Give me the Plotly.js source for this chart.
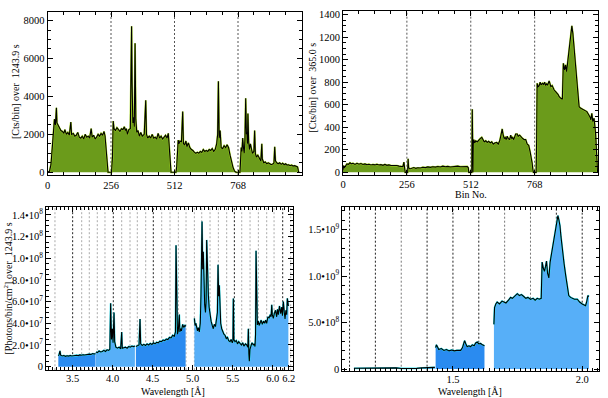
<!DOCTYPE html>
<html><head><meta charset="utf-8">
<script src="https://cdn.plot.ly/plotly-3.0.1.min.js"></script>
<style>html,body{margin:0;padding:0;background:#fff}#plot{width:608px;height:398px}</style>
</head><body><div id="plot"></div>
<script>
// ---------- Panel 1: counts per bin, 1243.9 s ----------
const p1Bins = [0,8,14,20,24,28,32,36,38,42,48,54,60,66,70,76,82,88,94,97,104,110,116,122,128,134,140,146,152,158,164,170,176,180,186,192,198,204,210,216,222,228,232,236,240,244,
258,262,265,268,274,280,286,292,298,304,310,314,318,322,328,334,337,339,341,344,347,350,353,356,360,365,370,376,382,390,396,399,404,410,416,422,428,434,440,446,452,458,464,470,476,482,487,490,494,498,
512,518,521,524,527,530,534,540,545,548,553,558,562,568,574,580,586,592,598,604,610,616,622,628,634,640,646,652,658,664,670,676,682,686,689,692,696,700,706,712,718,724,730,736,742,748,754,760,
776,779,781,784,787,790,793,796,799,802,804,806,808,811,814,818,822,826,832,835,838,842,848,854,860,864,866,872,878,884,890,896,902,910,913,916,919,924,930,936,942,948,954,960,966,972,978,984,990,996,1002,1008,1011,1013];
const p1Counts = [0,50,400,1500,2600,2800,2500,3400,2600,2500,2350,2200,2150,2050,2250,2000,2100,1950,2650,2000,2050,1900,1950,2100,1850,1800,1900,1750,2000,1850,1900,1800,2300,1850,1950,1750,1850,2000,1900,2050,1950,2150,1900,1200,300,0,
0,800,2700,2300,2200,2350,2250,2150,2300,2250,2400,2200,2300,2000,2250,2300,5600,7700,4700,2600,2900,2400,6800,2800,2100,2200,1900,2100,1900,2000,3800,2000,1800,1900,1800,2000,1800,1850,1750,2050,1800,1900,1750,1850,1950,1800,2050,1500,400,0,
0,0,300,1500,1700,1500,1650,1600,3200,1500,1450,1650,1350,1550,1300,1200,1150,1050,1000,1050,1000,1100,1050,1200,1100,1150,1100,1200,1150,1250,1100,1200,1500,2000,4800,1800,2200,1300,1250,1400,1300,1450,1300,900,550,250,60,0,
0,600,1300,1100,1800,1300,1000,1700,3900,2000,2100,1500,3100,1600,1200,1500,1100,1000,1100,2200,1000,800,900,700,600,1500,700,500,550,450,500,450,400,450,500,1350,600,500,450,500,420,480,400,450,380,400,350,380,330,350,300,280,100,0];

// ---------- Panel 2: counts per bin, 365.0 s ----------
const p2Bins = [0,2,5,10,16,22,28,34,40,48,56,64,72,80,88,96,104,112,120,128,136,144,152,160,168,176,184,192,200,208,216,224,232,240,244,246,249,
256,259,261,263,268,276,284,292,300,310,320,330,340,350,360,370,380,390,400,410,420,430,440,450,460,470,480,490,498,502,504,
510,516,518,519,521,522,524,528,532,538,544,550,556,560,566,572,578,584,590,596,602,608,616,622,628,632,635,638,641,646,650,654,658,662,668,672,676,680,684,688,692,698,702,708,714,720,726,732,738,744,750,754,758,761,763,
770,774,776,778,782,786,790,794,799,804,808,812,816,820,826,830,833,838,842,846,850,855,859,862,866,870,874,879,883,888,892,896,902,908,913,917,921,926,933,939,946,953,960,966,972,977,982,986,990,993,997,1001,1006,1012,1016,1020];
const p2Counts = [20,60,40,60,75,70,85,75,80,70,80,72,78,70,75,68,72,65,70,66,72,65,68,62,70,62,66,60,62,58,60,55,52,50,90,45,0,
0,0,120,40,30,38,42,35,40,38,45,42,48,44,50,46,52,48,55,50,53,48,52,50,55,50,52,48,52,40,0,
0,0,560,0,0,250,290,260,280,270,290,300,310,290,270,280,265,275,260,270,250,260,265,250,280,320,360,385,340,300,310,290,320,300,290,330,300,310,290,330,340,340,320,330,310,300,290,290,250,240,180,140,80,20,0,
0,0,300,790,760,767,800,775,790,780,800,770,785,775,811,790,760,770,745,731,720,710,701,690,672,660,655,648,968,909,953,894,1027,1145,1220,1300,1234,1086,879,701,583,568,560,553,545,539,520,509,490,465,524,450,480,346,198,0];
const binBoundaries = [256,512,768];

// ---------- Panel 3: photons/bin/cm^2 (units of 1e7), 1243.9 s ----------
const p3ALam = [3.321,3.33,3.342,3.35,3.37,3.39,3.41,3.43,3.45,3.47,3.49,3.51,3.53,3.55,3.57,3.59,3.61,3.63,3.65,3.67,3.69,3.71,3.73,3.75,3.77,3.786];
const p3AVal = [1.0,1.1,1.45,1.05,0.98,1.02,0.95,1.0,0.97,1.03,0.98,1.02,1.0,1.05,1.02,1.08,1.05,1.1,1.07,1.12,1.1,1.15,1.12,1.2,1.17,1.2];
const p3BLam = [3.79,3.81,3.83,3.85,3.87,3.89,3.91,3.93,3.95,3.965,3.975,3.985,3.996,4.005,4.017,4.025,4.04,4.06,4.08,4.1,4.113,4.12,4.14,4.16,4.18,4.2,4.22,4.24,4.26,4.278];
const p3BVal = [1.35,1.3,1.45,1.35,1.4,1.5,1.4,1.55,1.5,1.6,5.85,2.5,3.5,2.2,5.0,2.3,1.8,1.7,1.8,1.65,3.2,1.7,1.75,1.8,1.7,1.85,1.8,1.9,1.85,1.9];
const p3CLam = [4.29,4.31,4.33,4.342,4.35,4.37,4.39,4.41,4.43,4.45,4.47,4.49,4.51,4.53,4.55,4.57,4.59,4.61,4.63,4.65,4.67,4.69,4.71,4.73,4.75,4.77,4.785,4.792,4.80,4.81,4.82,4.833,4.84,4.85,4.86,4.875,4.89,4.905,4.912];
const p3CVal = [1.85,1.9,2.0,4.4,2.1,1.95,2.05,1.95,2.1,2.0,2.15,2.05,2.2,2.1,2.25,2.2,2.35,2.3,2.45,2.4,2.55,2.5,2.7,2.65,2.9,2.8,3.2,11.2,4.0,3.0,3.3,4.8,3.2,3.5,3.3,3.9,3.6,3.85,3.7];
const p3DLam = [5.021,5.03,5.04,5.05,5.06,5.07,5.083,5.095,5.104,5.117,5.125,5.133,5.142,5.15,5.16,5.168,5.175,5.185,5.196,5.205,5.217,5.23,5.245,5.258,5.27,5.285,5.3,5.309,5.317,5.325,5.333,5.34,5.35,5.363,5.375,5.39,5.404,5.42,5.435,5.45,5.467,5.48,5.495,5.503,5.508,5.515,5.529,5.545,5.56,5.575,5.592,5.61,5.625,5.64,5.66,5.675,5.69,5.696,5.702,5.708,5.716,5.725,5.74,5.758,5.77,5.779,5.786,5.792,5.8,5.808,5.82,5.83,5.842,5.855,5.87,5.885,5.9,5.912,5.925,5.94,5.955,5.97,5.98,5.988,5.995,6.008,6.02,6.035,6.05,6.06,6.071,6.085,6.1,6.113,6.122,6.133,6.145,6.154,6.165,6.175,6.183,6.196];
const p3DVal = [4.45,3.8,4.0,3.5,3.3,3.6,3.2,4.0,6.6,13.4,9.0,10.6,7.0,5.7,5.0,6.0,11.7,8.0,6.6,5.5,4.8,4.2,3.8,3.5,3.9,3.7,4.5,5.0,9.4,6.5,7.5,5.0,4.0,3.5,3.2,3.0,2.9,2.6,2.7,2.4,2.3,2.5,2.2,2.4,6.3,2.5,2.3,2.4,2.1,2.3,2.15,2.0,2.2,1.9,2.1,2.0,1.8,3.5,1.2,0.5,1.6,1.85,2.2,2.0,2.1,1.85,3.0,10.7,5.0,3.85,4.2,3.8,4.0,4.3,3.9,4.2,4.0,4.3,4.0,4.6,4.5,4.8,4.6,5.7,4.8,4.45,4.9,5.2,4.6,5.3,4.8,5.6,4.9,5.5,4.7,6.0,5.0,4.4,5.2,4.8,6.3,5.6];
const p3TickVals = [0,2,4,6,8,10,12,14];
const p3TickText = ["0","2.0•10<sup>7</sup>","4.0•10<sup>7</sup>","6.0•10<sup>7</sup>","8.0•10<sup>7</sup>","1.0•10<sup>8</sup>","1.2•10<sup>8</sup>","1.4•10<sup>8</sup>"];
const p3LinesLight = [3.279,3.613,3.708,3.808,3.904,4.113,4.217,4.308,4.413,4.613,4.717,4.821,4.917,5.021,5.113,5.217,5.321,5.425,5.613,5.717,5.821,5.925,6.017,6.225];
const p3LinesDark = [3.5,4.008,4.508,5.521,6.125];

// ---------- Panel 4: photons (units of 1e8) ----------
const p4ALam = [1.117,1.15,1.18,1.2,1.22,1.25,1.28,1.3,1.33,1.36,1.38,1.4,1.43];
const p4AVal = [0.08,0.1,0.11,0.12,0.15,0.13,0.12,0.06,0.05,0.07,0.12,0.15,0.18];
const p4BLam = [1.433,1.436,1.44,1.445,1.455,1.465,1.475,1.485,1.495,1.505,1.515,1.525,1.53,1.537,1.545,1.55,1.555,1.562,1.568,1.575,1.582,1.588,1.594,1.6,1.607,1.614,1.622];
const p4BVal = [2.3,2.6,2.4,2.1,2.2,2.0,2.1,1.95,2.05,1.95,2.0,1.95,2.0,2.3,3.05,2.7,2.4,2.5,2.4,2.6,2.5,2.8,2.9,2.7,2.75,2.6,2.5];
const p4CLam = [1.6585,1.661,1.666,1.671,1.68,1.69,1.697,1.705,1.715,1.723,1.73,1.74,1.749,1.757,1.765,1.774,1.782,1.79,1.8,1.81,1.818,1.826,1.834,1.8415,1.845,1.85,1.854,1.858,1.862,1.866,1.871,1.876,1.884,1.89,1.897,1.902,1.906,1.91,1.914,1.918,1.923,1.93,1.936,1.942,1.948,1.955,1.961,1.97,1.981,1.99,2.0,2.007,2.013,2.018,2.022,2.026];
const p4CVal = [4.8,6.6,7.0,7.2,7.0,7.3,7.2,7.1,7.4,7.7,7.6,7.9,8.1,7.9,8.0,7.8,7.6,7.7,7.5,7.6,7.4,7.6,7.5,7.6,11.5,10.8,10.5,11.0,11.6,10.3,9.8,11.5,12.9,14.0,15.0,15.8,16.5,16.0,15.4,14.2,12.8,11.3,10.1,9.0,7.9,7.7,7.6,7.5,7.5,7.2,7.0,6.9,6.8,7.3,7.9,7.8];
const p4TickVals = [0,5,10,15];
const p4TickText = ["0","5.0•10<sup>8</sup>","1.0•10<sup>9</sup>","1.5•10<sup>9</sup>"];
const p4LinesDark = [1.1,1.2,1.4,1.5,1.6,1.9,2.0];
const p4LinesLight = [1.3,1.7,1.8];

// ---------- colours ----------
const GREEN = '#6b9b1b', GREEN_EDGE = '#a6d81e';
const BLUE_D = '#2a8bf0', BLUE_L = '#57aff8', CYAN = '#2fe3f2';

const W = 608, H = 398;
const dx = (a,b) => [a/W, b/W];
const dy = (t,b) => [1-b/H, 1-t/H];

function filled(x, y, xa, ya, fill, edge){
  return [
    {x:x, y:y, xaxis:xa, yaxis:ya, type:'scatter', mode:'lines', fill:'tozeroy', fillcolor:fill,
     line:{color:edge, width:1.8}, hoverinfo:'skip', showlegend:false},
    {x:x, y:y, xaxis:xa, yaxis:ya, type:'scatter', mode:'lines',
     line:{color:'#000', width:1.1}, hoverinfo:'skip', showlegend:false}
  ];
}

const traces = [].concat(
  filled(p1Bins, p1Counts, 'x', 'y', GREEN, GREEN_EDGE),
  filled(p2Bins, p2Counts, 'x2', 'y2', GREEN, GREEN_EDGE),
  filled(p3ALam, p3AVal, 'x3', 'y3', BLUE_D, CYAN),
  filled(p3BLam, p3BVal, 'x3', 'y3', BLUE_L, CYAN),
  filled(p3CLam, p3CVal, 'x3', 'y3', BLUE_D, CYAN),
  filled(p3DLam, p3DVal, 'x3', 'y3', BLUE_L, CYAN),
  filled(p4ALam, p4AVal, 'x4', 'y4', BLUE_L, CYAN),
  filled(p4BLam, p4BVal, 'x4', 'y4', BLUE_D, CYAN),
  filled(p4CLam, p4CVal, 'x4', 'y4', BLUE_L, CYAN)
);

const FONT = {family:'Liberation Serif, Times New Roman, serif', size:10.5, color:'#000'};
const TFONT = {family:'Liberation Serif, Times New Roman, serif', size:10, color:'#000'};
function ax(extra){
  return Object.assign({
    showline:true, linecolor:'#000', linewidth:1, mirror:'allticks',
    ticks:'inside', ticklen:5, tickcolor:'#000', tickwidth:1,
    showgrid:false, zeroline:false, tickfont:FONT, fixedrange:true
  }, extra);
}
function minor(d, t0){ return {ticks:'inside', ticklen:3, tickcolor:'#000', dtick:d, tick0:t0||0, showgrid:false}; }

const shapes = [];
function vline(x, xa, ya, color, dash){
  shapes.push({type:'line', xref:xa, yref:ya+' domain', x0:x, x1:x, y0:0, y1:1,
    line:{color:color, width:1, dash:dash}, layer:'below'});
}
binBoundaries.forEach(b => { vline(b,'x','y','#555','2px,2px'); vline(b,'x2','y2','#555','2px,2px'); });
p3LinesLight.forEach(l => vline(l,'x3','y3','#aaaaaa','2px,2px'));
p3LinesDark.forEach(l => vline(l,'x3','y3','#222222','2px,2px'));
p4LinesDark.forEach(l => vline(l,'x4','y4','#222222','2px,2px'));
p4LinesLight.forEach(l => vline(l,'x4','y4','#777777','2px,2px'));

function ann(text, px, py, rot){
  return {text:text, x:px/W, y:1-py/H, xref:'paper', yref:'paper', showarrow:false,
    xanchor:'center', yanchor:'middle', textangle:rot||0, font:TFONT};
}

const layout = {
  width:W, height:H, margin:{l:0,r:0,t:0,b:0},
  paper_bgcolor:'#fff', plot_bgcolor:'#fff', showlegend:false,
  xaxis: ax({domain:dx(47.5,301.5), range:[0,1024], anchor:'y', tickmode:'array', tickvals:[0,256,512,768], minor:minor(64)}),
  yaxis: ax({domain:dy(11.5,175), range:[-142,8475], anchor:'x', tickmode:'array', tickvals:[0,2000,4000,6000,8000], minor:minor(500)}),
  xaxis2: ax({domain:dx(343,598.3), range:[0,1023], anchor:'y2', tickmode:'array', tickvals:[0,256,512,768], minor:minor(64)}),
  yaxis2: ax({domain:dy(11,174.7), range:[-21,1432], anchor:'x2', tickmode:'array', tickvals:[0,200,400,600,800,1000,1200,1400], minor:minor(50)}),
  xaxis3: ax({domain:dx(46,292.7), range:[3.167,6.25], anchor:'y3', tickmode:'array', ticklabelstandoff:-2,
    tickvals:[3.5,4.0,4.5,5.0,5.5,6.0,6.2], ticktext:['3.5','4.0','4.5','5.0','5.5','6.0','6.2'], minor:minor(0.05)}),
  yaxis3: ax({domain:dy(207.3,370.2), range:[-0.33,14.71], anchor:'x3', tickmode:'array', tickvals:p3TickVals, ticktext:p3TickText, minor:minor(0.5)}),
  xaxis4: ax({domain:dx(342.3,599), range:[1.072,2.065], anchor:'y4', tickmode:'array', ticklabelstandoff:-1, tickvals:[1.5,2.0], ticktext:['1.5','2.0'], minor:minor(0.02)}),
  yaxis4: ax({domain:dy(206.7,370.7), range:[-0.18,17.45], anchor:'x4', tickmode:'array', tickvals:p4TickVals, ticktext:p4TickText, minor:minor(1)}),
  shapes: shapes,
  annotations: [
    ann('[Cts/bin] over&nbsp; 1243.9 s', 15, 92, -90),
    ann('[Cts/bin] over&nbsp; 365.0 s', 311.5, 88, -90),
    ann('[Photons/bin/cm<sup>2</sup>] over&nbsp; 1243.9 s', 7.5, 289, -90),
    ann('Bin No.', 470.7, 194.5),
    ann('Wavelength [Å]', 173, 391),
    ann('Wavelength [Å]', 469.7, 391.5)
  ]
};

Plotly.newPlot('plot', traces, layout, {staticPlot:true, displayModeBar:false});
</script>
</body></html>
